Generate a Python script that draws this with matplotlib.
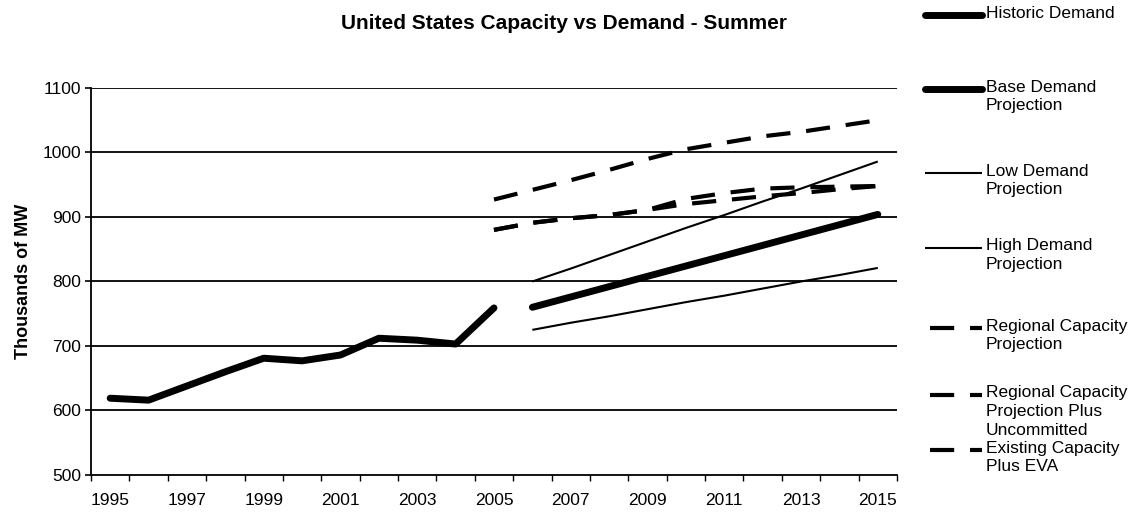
import matplotlib
matplotlib.use("Agg")
import matplotlib.pyplot as plt
from matplotlib.lines import Line2D

plt.rcParams["font.family"] = ["Liberation Sans", "DejaVu Sans"]

# ---------------------------------
# Data (thousands of MW)
# ---------------------------------

years_hist = [1995, 1996, 1997, 1998, 1999, 2000, 2001, 2002, 2003, 2004, 2005]
historic = [619, 616, 638, 660, 681, 677, 686, 712, 709, 703, 759]

years_proj = [2006, 2007, 2008, 2009, 2010, 2011, 2012, 2013, 2014, 2015]
base_demand = [760, 776, 792, 808, 824, 840, 856, 872, 888, 904]
low_demand = [725, 736, 746, 757, 768, 778, 789, 800, 810, 821]
high_demand = [800, 820, 841, 862, 883, 903, 924, 944, 965, 986]

years_cap = [2005, 2006, 2007, 2008, 2009, 2010, 2011, 2012, 2013, 2014, 2015]
regional_cap = [880, 891, 898, 903, 911, 928, 937, 944, 946, 947, 948]
regional_uncommitted = [927, 942, 957, 973, 990, 1005, 1015, 1025, 1032, 1041, 1050]
existing_eva = [880, 891, 898, 903, 911, 920, 926, 932, 937, 943, 948]

tick_years = [1995, 1997, 1999, 2001, 2003, 2005, 2007, 2009, 2011, 2013, 2015]
y_ticks = [500, 600, 700, 800, 900, 1000, 1100]

# ---------------------------------
# Line styles
# ---------------------------------

thick = dict(color="black", lw=5.0, solid_capstyle="round", solid_joinstyle="round")
thin = dict(color="black", lw=1.5, solid_capstyle="butt")
dashed = dict(color="black", lw=3.0, dashes=(5.8, 3.8), dash_capstyle="butt")

series = [
    (years_hist, historic, thick, "Historic Demand"),
    (years_proj, base_demand, thick, "Base Demand\nProjection"),
    (years_proj, low_demand, thin, "Low Demand\nProjection"),
    (years_proj, high_demand, thin, "High Demand\nProjection"),
    (years_cap, regional_cap, dashed, "Regional Capacity\nProjection"),
    (years_cap, regional_uncommitted, dashed,
     "Regional Capacity\nProjection Plus\nUncommitted"),
    (years_cap, existing_eva, dashed, "Existing Capacity\nPlus EVA"),
]

# ---------------------------------
# Figure
# ---------------------------------

fig = plt.figure(figsize=(11.33, 5.16), dpi=100)
ax = fig.add_axes([0.0803, 0.0795, 0.7114, 0.75])

for xs, ys, style, label in series:
    ax.plot(xs, ys, **style)

# ---------------------------------
# Axes
# ---------------------------------

ax.set_xlim(1994.5, 2015.5)
ax.set_ylim(500, 1100)

ax.set_yticks(y_ticks)
ax.set_yticklabels([str(v) for v in y_ticks], fontsize=12.5)
ax.set_xticks(tick_years)
ax.set_xticklabels([str(v) for v in tick_years], fontsize=12.5)
ax.tick_params(axis="x", length=0, pad=13)
ax.tick_params(axis="y", direction="out", length=4, width=1.2, pad=3)

# category boundary ticks on the x axis
ax.set_xticks([y - 0.5 for y in range(1995, 2017)], minor=True)
ax.tick_params(axis="x", which="minor", direction="out", length=4, width=1.0)

for v in y_ticks[1:]:
    ax.axhline(v, color="black", lw=1.3, zorder=0.5)

ax.spines["top"].set_visible(False)
ax.spines["right"].set_visible(False)
ax.spines["left"].set_linewidth(1.3)
ax.spines["bottom"].set_linewidth(1.3)

ax.set_ylabel("Thousands of MW", fontsize=13, fontweight="bold", labelpad=8)

fig.text(0.498, 0.955, "United States Capacity vs Demand - Summer",
         fontsize=15, fontweight="bold", ha="center", va="center")

# ---------------------------------
# Legend (right side, one entry per series)
# ---------------------------------

W, H = 1133.0, 516.0
entry_y = [15, 89, 173, 248, 328, 395, 450]

for (xs, ys, style, label), py in zip(series, entry_y):
    yf = 1 - py / H
    if style is dashed:
        x0, x1 = 930 / W, 982 / W
    else:
        x0, x1 = 925 / W, 982 / W
    fig.add_artist(Line2D([x0, x1], [yf, yf], transform=fig.transFigure, **style))
    fig.text(986 / W, 1 - (py - 9.5) / H, label, fontsize=12.5,
             ha="left", va="top", linespacing=1.3)

fig.savefig("out.png", dpi=100)
